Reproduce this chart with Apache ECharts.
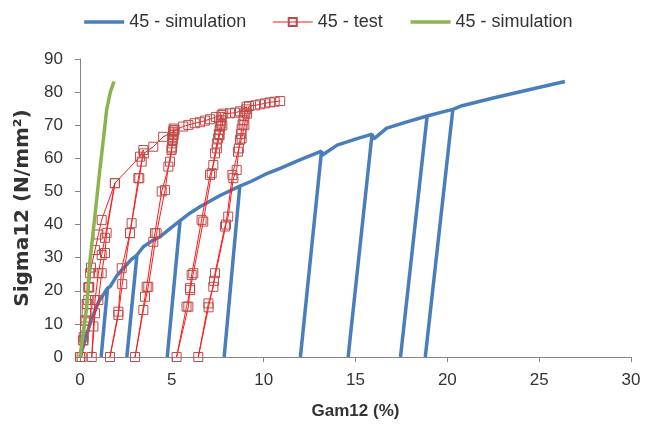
<!DOCTYPE html>
<html>
<head>
<meta charset="utf-8">
<script src="https://cdn.jsdelivr.net/npm/echarts@6/dist/echarts.min.js"></script>
<style>
  html, body { margin: 0; padding: 0; background: #fff; }
  #chart { width: 655px; height: 425px; }
</style>
</head>
<body>
<div id="chart"></div>
<script>
var chart = echarts.init(document.getElementById('chart'));

// series names (third one gets a trailing space so the legend keeps it separate)
var seriesNames = ['45 - simulation', '45 - test', '45 - simulation '];

// blue simulation: loading envelope with unload/reload cycles [Gam12 %, Sigma12]
var blueSim = [
  [0, 0], [0.6, 11], [1.0, 16.5], [1.5, 20.8],
  [1.15, 0], [1.5, 20.8],
  [1.63, 21.2], [2.0, 24.5], [2.36, 26.8], [2.8, 29.5], [3.1, 30.8],
  [2.55, 0], [3.1, 30.8],
  [3.15, 30.2], [3.45, 33.3], [3.9, 35], [4.35, 36.3], [4.9, 38.8], [5.45, 41.2],
  [4.75, 0], [5.45, 41.2],
  [5.55, 41], [6.0, 43.5], [6.53, 45.4], [7.6, 48.7], [8.7, 51.6],
  [7.85, 0], [8.7, 51.6],
  [8.8, 51.4], [9.3, 53], [10.1, 55.2], [10.9, 57], [12.0, 59.6], [13.15, 62.2],
  [12.0, 0], [13.15, 62.2],
  [13.2, 61], [14.0, 64], [15.0, 65.8], [15.9, 67.3],
  [14.6, 0], [15.9, 67.3],
  [16.0, 65.9], [16.7, 69.1], [17.8, 71], [18.9, 72.8],
  [17.45, 0], [18.9, 72.8],
  [19.6, 73.8], [20.3, 74.8],
  [18.8, 0], [20.3, 74.8],
  [20.8, 75.9], [22.5, 78.2], [24.5, 80.8], [26.4, 83.2]
];

// red test: measured cyclic points
var redTest = [
  [0, 0], [0.18, 5.1], [0.27, 9.2], [0.36, 13.2], [0.45, 17.2], [0.5, 21.2], [0.55, 25.3],
  [0.45, 21], [0.36, 16], [0.27, 11], [0.18, 5], [0.09, 0],
  [0.2, 6], [0.3, 11], [0.4, 16], [0.5, 21], [0.6, 27],
  [0.82, 32.3], [1.0, 37], [1.18, 41.4], [1.9, 52.5],
  [1.45, 37.5], [1.36, 31.4], [1.18, 25.3], [1.0, 17.2], [0.82, 13.2], [0.64, 0],
  [0.73, 9.2], [0.82, 17.2], [1.0, 25.3], [1.18, 30.8], [1.36, 36], [1.9, 52.5],
  [3.27, 60.5], [3.45, 62.5],
  [3.23, 54], [2.81, 40.4], [2.72, 37.4], [2.27, 26.8], [2.09, 13.7], [1.63, 0],
  [2.09, 12.7], [2.3, 22], [2.72, 37.4], [3.18, 54], [3.36, 59], [3.48, 61.5],
  [3.99, 63.5], [4.53, 66.5], [5.08, 68],
  [5.1, 69], [5.09, 68.5], [5.08, 67.5], [5.06, 66.5], [5.05, 65.5], [5.03, 64.5], [5.01, 63.5], [4.98, 62.5],
  [4.81, 57.5], [4.63, 50.4], [4.17, 37.4], [3.72, 21.2], [3.45, 14.2], [3.0, 0],
  [3.54, 18.2], [3.63, 21.2], [3.99, 34.8], [4.08, 37.4], [4.45, 50], [4.9, 59], [5.0, 63], [5.1, 67], [5.15, 68.5],
  [5.62, 69.6], [5.9, 70.1], [6.25, 70.6], [6.53, 70.9], [6.8, 71.4], [7.08, 71.8], [7.4, 72.5], [7.71, 73.1],
  [7.7, 72.5], [7.68, 71.5], [7.66, 70.5], [7.64, 69.6], [7.6, 68.5], [7.56, 67.3], [7.52, 66], [7.45, 64.5], [7.35, 61.5],
  [7.17, 55.5], [6.71, 40.9], [6.17, 25.3], [6.0, 20.2], [5.8, 15.2], [5.26, 0],
  [5.9, 15.2], [5.99, 20.8], [6.08, 24.8], [6.62, 41.4], [7.08, 55], [7.26, 58], [7.45, 63], [7.6, 67], [7.75, 70], [7.8, 73.5],
  [8.17, 73.6], [8.44, 73.8], [8.71, 74.2], [9.07, 75.6],
  [9.05, 74.8], [9.0, 73.8], [8.95, 72.8], [8.9, 71.5], [8.85, 70.2], [8.8, 68.8], [8.76, 67.3], [8.71, 65.6], [8.65, 63],
  [8.53, 56.5], [8.35, 54], [8.07, 42.4], [7.89, 39.4], [7.35, 25.3], [7.26, 21.2], [6.99, 16.2], [6.44, 0],
  [7.0, 15], [7.3, 23], [7.95, 40], [8.3, 55], [8.6, 62], [8.8, 66], [8.95, 70], [9.1, 73.5], [9.2, 75.8],
  [9.53, 76], [9.8, 76.3], [10.07, 76.6], [10.34, 76.9], [10.6, 77.1], [10.9, 77.3]
];

// green simulation: linear-elastic branch
var greenSim = [
  [0, 0], [0.36, 15], [0.54, 29], [0.8, 42], [1.05, 55], [1.27, 65.6], [1.45, 74.6], [1.65, 80], [1.85, 83.2]
];

var option = {
  animation: false,
  textStyle: { fontFamily: 'Liberation Sans' },
  legend: {
    top: 8,
    left: 'center',
    itemWidth: 40,
    itemHeight: 10,
    itemGap: 26,
    textStyle: { fontSize: 18, color: '#333', fontFamily: 'Liberation Sans' },
    formatter: function (name) { return name.trim(); },
    data: [
      { name: seriesNames[0], itemStyle: { opacity: 0 }, lineStyle: { width: 3.5 } },
      { name: seriesNames[1], lineStyle: { width: 1 } },
      { name: seriesNames[2], itemStyle: { opacity: 0 }, lineStyle: { width: 3.5 } }
    ]
  },
  grid: { left: 80, right: 24, top: 59, bottom: 68 },
  xAxis: {
    type: 'value',
    min: 0,
    max: 30,
    interval: 5,
    name: 'Gam12 (%)',
    nameLocation: 'middle',
    nameGap: 46,
    nameTextStyle: { fontSize: 17, fontWeight: 'bold', color: '#333', fontFamily: 'Liberation Sans' },
    axisLine: { lineStyle: { color: '#868686', width: 1 } },
    axisTick: { show: true, length: 5, lineStyle: { color: '#868686' } },
    axisLabel: { fontSize: 17, color: '#333', margin: 15 },
    splitLine: { show: false }
  },
  yAxis: {
    type: 'value',
    min: 0,
    max: 90,
    interval: 10,
    name: 'Sigma12 (N/mm²)',
    nameLocation: 'middle',
    nameGap: 40,
    nameTextStyle: { fontSize: 20, fontWeight: 'bold', color: '#333', fontFamily: 'DejaVu Sans' },
    axisLine: { show: true, lineStyle: { color: '#868686', width: 1 } },
    axisTick: { show: true, length: 5, lineStyle: { color: '#868686' } },
    axisLabel: { fontSize: 17, color: '#333', margin: 17 },
    splitLine: { show: false }
  },
  series: [
    {
      name: seriesNames[0],
      type: 'line',
      data: blueSim,
      symbol: 'none',
      lineStyle: { color: '#4a7ebb', width: 3.5 },
      itemStyle: { color: '#4a7ebb' },
      z: 2
    },
    {
      name: seriesNames[1],
      type: 'line',
      data: redTest,
      symbol: 'rect',
      symbolSize: 9,
      lineStyle: { color: '#ff1a1a', width: 1 },
      itemStyle: { color: 'rgba(0,0,0,0)', borderColor: '#be4b48', borderWidth: 1 },
      z: 3
    },
    {
      name: seriesNames[2],
      type: 'line',
      data: greenSim,
      symbol: 'none',
      lineStyle: { color: '#8db350', width: 3.5 },
      itemStyle: { color: '#8db350' },
      z: 4
    }
  ]
};

chart.setOption(option);
</script>
</body>
</html>
